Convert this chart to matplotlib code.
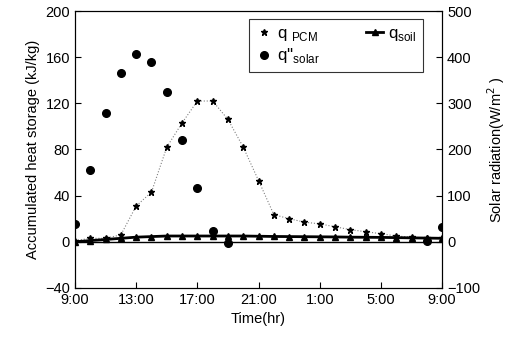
import matplotlib.pyplot as plt

plt.rcParams['font.family'] = ['Liberation Sans', 'DejaVu Sans']

nan = float("nan")

# hours since 9:00 (9:00 -> 9:00 next day)
hours = list(range(25))
tick_pos = [0, 4, 8, 12, 16, 20, 24]
tick_labels = ["9:00", "13:00", "17:00", "21:00", "1:00", "5:00", "9:00"]

# accumulated heat storage in PCM (kJ/kg)
q_pcm = [1, 3, 3, 6, 31, 43, 82, 103, 122, 122, 106, 82, 53, 23.5, 20, 17,
         15.5, 13, 10.5, 8.7, 7, 5, 4, 3, 3]
# accumulated heat storage in soil (kJ/kg)
q_soil = [0, 1, 2, 3, 4, 4.5, 5, 5, 5, 5, 5, 5, 4.8, 4.6, 4.5, 4.4,
          4.3, 4.2, 4, 3.9, 3.8, 3.6, 3.4, 3.2, 3]
# solar radiation (W/m2), night values hidden on the zero line
q_solar = [39, 156, 278, 365, 406, 389, 324, 220, 117, 24, -2, nan, nan, nan,
           nan, nan, nan, nan, nan, nan, nan, nan, nan, 2, 33]

fig = plt.figure(figsize=(5.1, 3.44), dpi=100)
ax = fig.add_axes([0.147, 0.163, 0.72, 0.805])
ax2 = ax.twinx()

ax.axhline(0, color="black", lw=1.0, zorder=1)
# faint dotted connector for the PCM series
ax.plot(hours, q_pcm, linestyle=":", color="gray", lw=0.8)
l1, = ax.plot(hours, q_pcm, linestyle="none", marker="*", markersize=5,
              color="black")
l2, = ax.plot(hours, q_soil, color="black", lw=2.0, marker="^", markersize=4)
l3, = ax2.plot(hours, q_solar, linestyle="none", marker="o", markersize=5.5,
               color="black")

ax.set_xlim(0, 24)
ax.set_ylim(-40, 200)
ax.set_yticks(range(-40, 201, 40))
ax2.set_ylim(-100, 500)
ax2.set_yticks(range(-100, 501, 100))
ax.set_xticks(tick_pos)
ax.set_xticklabels(tick_labels)

ax.tick_params(direction="in", labelsize=10.5, length=4)
ax2.tick_params(direction="in", labelsize=10.5, length=4)

ax.set_xlabel("Time(hr)", fontsize=10.5)
ax.set_ylabel("Accumulated heat storage (kJ/kg)", fontsize=10.5)
ax2.set_ylabel("Solar radiation(W/m$^2$ )", fontsize=10.5)

# column-wise fill: pcm, solar | soil
leg = ax.legend([l1, l3, l2],
                ["q $_{\\mathregular{PCM}}$", "q''$_{\\mathregular{solar}}$",
                 "q$_{\\mathregular{soil}}$"],
                ncol=2, loc="upper right", bbox_to_anchor=(0.97, 1.0),
                fontsize=12, frameon=True, fancybox=False, edgecolor="black",
                handlelength=1.0, handletextpad=0.3, columnspacing=2.8,
                borderpad=0.4, labelspacing=0.2)
leg.get_frame().set_linewidth(0.8)

fig.savefig("out.png", dpi=100)
